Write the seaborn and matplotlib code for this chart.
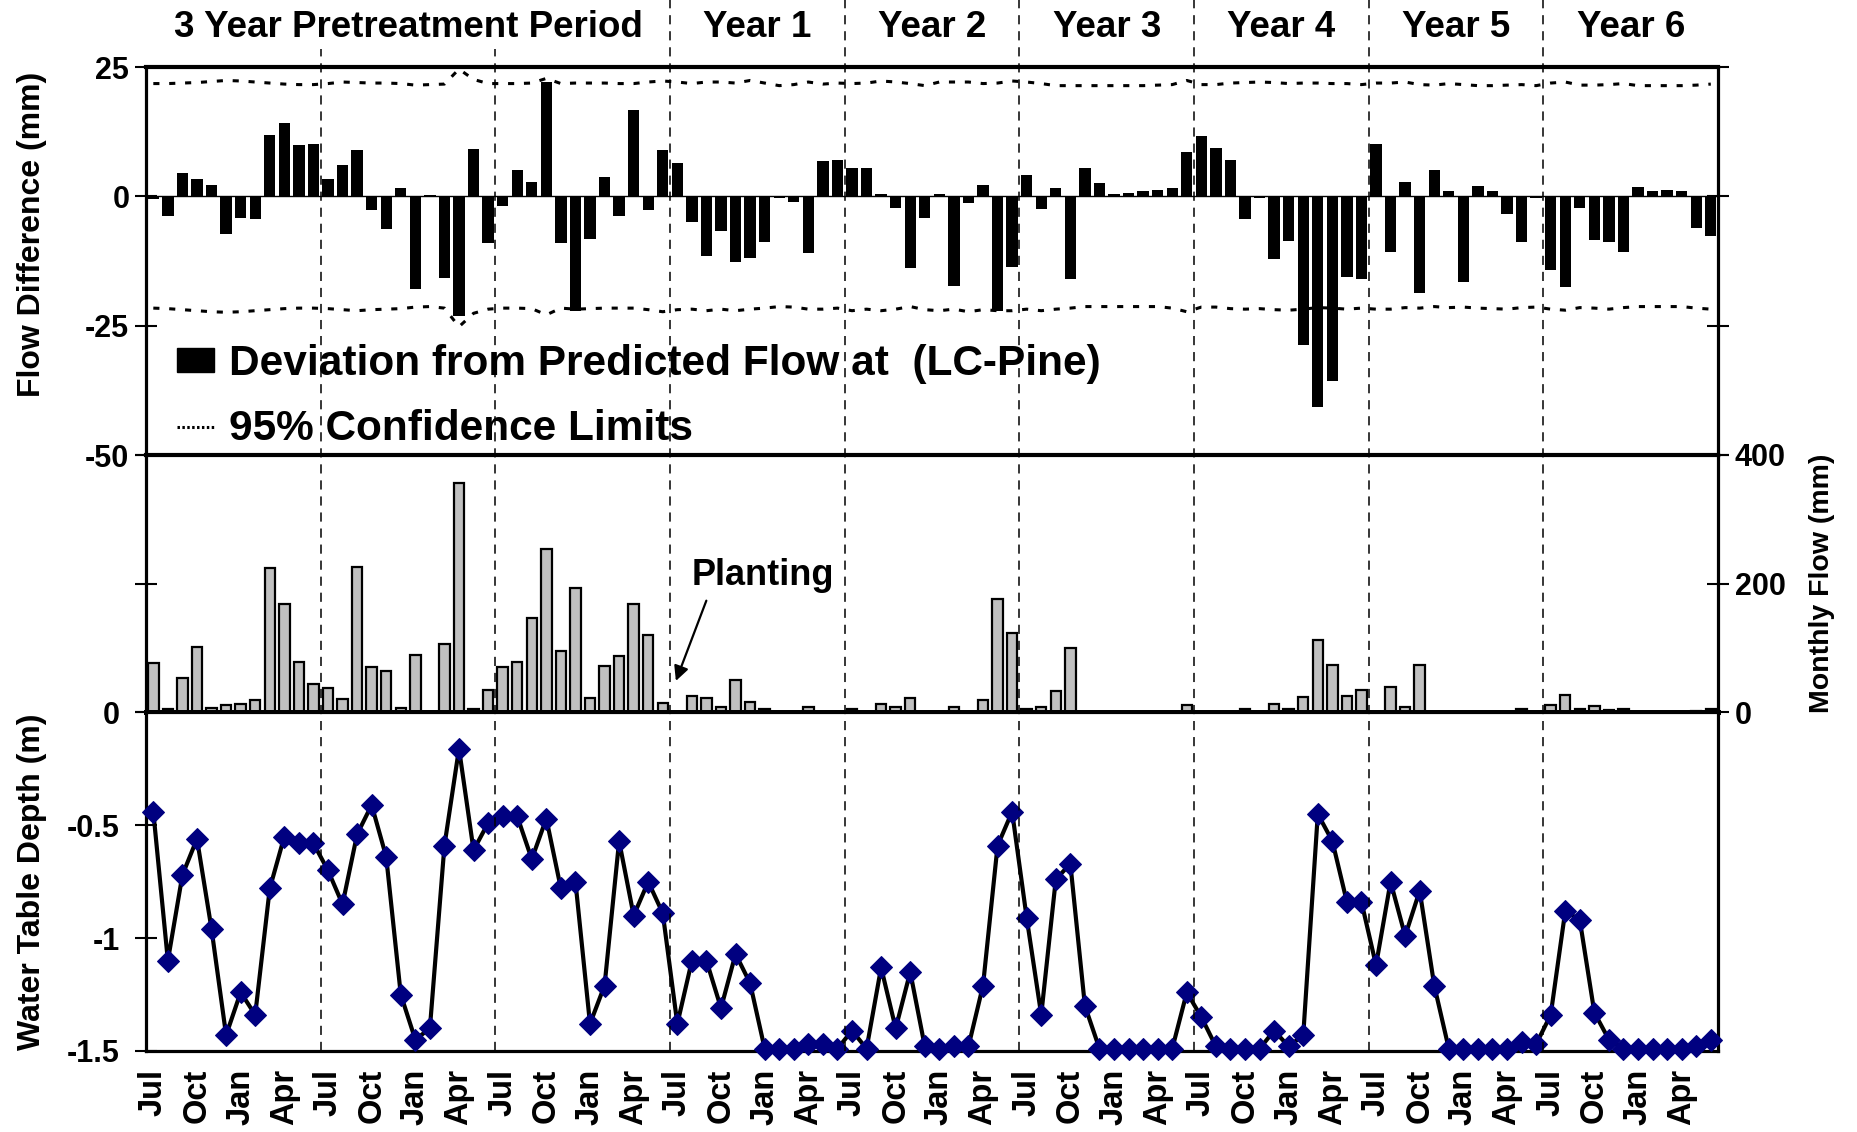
import numpy as np
import matplotlib
matplotlib.use("Agg")
import matplotlib.pyplot as plt
import seaborn as sns
from matplotlib.lines import Line2D
from matplotlib.patches import Patch
from matplotlib.transforms import blended_transform_factory
from matplotlib import font_manager as fm

# ---------------- data ----------------
month_labels = ["Jul", "Oct", "Jan", "Apr"] * 9
period_labels = ["3 Year Pretreatment Period", "Year 1", "Year 2", "Year 3",
                 "Year 4", "Year 5", "Year 6"]
period_centers = [17.5, 41.5, 53.5, 65.5, 77.5, 89.5, 101.5]

flow_diff = [
    -0.5, -3.7, 4.5, 3.4, 2.2, -7.2, -4.2, -4.3, 11.9, 14.1, 9.9, 10.1,
    3.4, 6.0, 9.0, -2.6, -6.4, 1.7, -17.9, 0.3, -15.7, -23.2, 9.2, -9.1,
    -1.9, 5.1, 2.8, 22.1, -9.0, -22.1, -8.3, 3.8, -3.7, 16.7, -2.6, 9.0,
    6.5, -5.0, -11.6, -6.6, -12.7, -12.0, -8.9, -0.4, -1.0, -11.0, 6.8, 7.1,
    5.5, 5.4, 0.5, -2.3, -13.9, -4.2, 0.5, -17.4, -1.2, 2.2, -22.2, -13.6,
    4.1, -2.5, 1.7, -15.9, 5.4, 2.5, 0.5, 0.6, 1.0, 1.3, 1.7, 8.5,
    11.6, 9.4, 7.0, -4.3, -0.4, -12.1, -8.7, -28.7, -40.8, -35.6, -15.6, -16.0,
    10.2, -10.7, 2.7, -18.6, 5.1, 1.1, -16.6, 2.0, 1.0, -3.5, -8.8, -0.4,
    -14.3, -17.5, -2.2, -8.5, -8.8, -10.8, 1.9, 1.0, 1.2, 1.0, -6.2, -7.7,
]

cl_upper = [
    21.8, 21.8, 21.9, 22.0, 22.2, 22.4, 22.3, 22.1, 21.9, 21.7, 21.6, 21.6,
    21.8, 22.1, 22.0, 21.9, 21.9, 21.8, 21.5, 21.6, 21.7, 24.6, 22.6, 21.8,
    21.8, 21.8, 21.9, 22.8, 21.8, 21.9, 21.9, 21.9, 21.8, 21.8, 22.1, 22.3,
    22.1, 21.8, 22.1, 22.1, 21.9, 22.4, 21.9, 21.4, 21.6, 22.1, 21.7, 21.9,
    21.8, 21.9, 22.3, 22.1, 21.8, 21.4, 22.1, 22.1, 22.1, 21.8, 21.9, 22.3,
    22.1, 21.8, 21.4, 21.4, 21.4, 21.4, 21.4, 21.4, 21.4, 21.5, 21.6, 22.4,
    21.6, 21.6, 21.9, 22.0, 22.1, 22.0, 21.8, 21.9, 21.9, 21.8, 21.8, 21.6,
    21.9, 21.9, 22.1, 21.6, 21.5, 21.8, 21.6, 21.4, 21.4, 21.5, 21.6, 21.4,
    21.9, 22.1, 21.5, 21.5, 21.6, 21.8, 21.4, 21.4, 21.4, 21.4, 21.5, 21.7,
]

cl_lower = [
    -21.6, -21.7, -21.9, -22.1, -22.3, -22.4, -22.3, -22.1, -21.9, -21.7, -21.6, -21.6,
    -21.7, -21.9, -22.1, -21.9, -21.8, -21.7, -21.4, -21.3, -21.6, -25.2, -22.6, -21.8,
    -21.6, -21.6, -21.7, -22.9, -21.6, -21.8, -21.7, -21.6, -21.6, -21.6, -21.9, -22.3,
    -21.9, -21.8, -22.1, -21.8, -22.1, -21.8, -21.6, -21.3, -21.4, -21.8, -21.8, -21.6,
    -22.1, -21.8, -22.1, -21.8, -21.3, -21.9, -22.1, -21.8, -22.3, -21.9, -22.1, -22.1,
    -21.8, -22.1, -21.8, -21.6, -21.3, -21.3, -21.3, -21.3, -21.3, -21.3, -21.6, -22.3,
    -21.4, -21.4, -21.7, -21.8, -21.7, -21.9, -22.0, -21.8, -21.5, -21.6, -21.8, -21.6,
    -21.8, -21.8, -21.5, -21.6, -21.3, -21.5, -21.4, -21.6, -21.7, -21.8, -21.5, -21.4,
    -21.8, -22.0, -21.5, -21.6, -21.8, -21.5, -21.3, -21.3, -21.3, -21.3, -21.6, -21.8,
]

monthly_flow = [
    77, 5, 54, 102, 7, 12, 13, 20, 224, 168, 78, 45,
    38, 21, 226, 71, 64, 7, 90, 0, 106, 357, 6, 35,
    70, 79, 146, 254, 95, 194, 22, 72, 87, 168, 120, 14,
    1, 25, 23, 9, 50, 17, 5, 0, 0, 9, 1, 0,
    6, 0, 13, 9, 22, 1, 0, 8, 0, 19, 176, 124,
    6, 8, 33, 100, 0, 0, 0, 0, 0, 0, 0, 11,
    0, 0, 0, 5, 1, 13, 5, 24, 112, 74, 26, 35,
    0, 40, 8, 74, 0, 0, 0, 0, 0, 0, 5, 1,
    12, 27, 5, 10, 4, 5, 0, 0, 0, 0, 2, 5,
]

water_table = [
    -0.44, -1.10, -0.72, -0.56, -0.96, -1.43, -1.24, -1.34, -0.78, -0.55, -0.58, -0.58,
    -0.70, -0.85, -0.54, -0.41, -0.64, -1.25, -1.45, -1.40, -0.59, -0.16, -0.61, -0.49,
    -0.46, -0.46, -0.65, -0.47, -0.78, -0.75, -1.38, -1.21, -0.57, -0.90, -0.75, -0.89,
    -1.38, -1.10, -1.10, -1.31, -1.07, -1.20, -1.49, -1.49, -1.49, -1.47, -1.47, -1.49,
    -1.41, -1.49, -1.13, -1.40, -1.15, -1.48, -1.49, -1.48, -1.48, -1.21, -0.59, -0.44,
    -0.91, -1.34, -0.74, -0.67, -1.30, -1.49, -1.49, -1.49, -1.49, -1.49, -1.49, -1.24,
    -1.35, -1.48, -1.49, -1.49, -1.49, -1.41, -1.48, -1.43, -0.45, -0.57, -0.84, -0.84,
    -1.12, -0.75, -0.99, -0.79, -1.21, -1.49, -1.49, -1.49, -1.49, -1.49, -1.46, -1.47,
    -1.34, -0.88, -0.92, -1.33, -1.45, -1.49, -1.49, -1.49, -1.49, -1.49, -1.48, -1.45,
]

# ---------------- style ----------------
sns.set_theme(style="white")
plt.rcParams["font.family"] = ["Liberation Sans", "DejaVu Sans"]
plt.rcParams["font.weight"] = "bold"
plt.rcParams["axes.labelweight"] = "bold"
for key in ("text.color", "axes.labelcolor", "xtick.color", "ytick.color",
            "axes.edgecolor"):
    plt.rcParams[key] = "black"

try:
    fm.findfont(fm.FontProperties(family="Liberation Sans Narrow", weight="bold"),
                fallback_to_default=False)
    header_family, header_size = ["Liberation Sans Narrow", "Liberation Sans"], 31
except Exception:
    header_family, header_size = ["Liberation Sans", "DejaVu Sans"], 26.5

n = len(flow_diff)
months = np.arange(n)

fig = plt.figure(figsize=(18.58, 11.32), dpi=100)
L, W = 0.0786, 0.8461
ax1 = fig.add_axes([L, 0.598, W, 0.3428])
ax2 = fig.add_axes([L, 0.3706, W, 0.2275], sharex=ax1)
ax3 = fig.add_axes([L, 0.0716, W, 0.299], sharex=ax1)

# ---- top panel: deviation bars + confidence limits
ax1.axhline(0, color="black", lw=1.0, zorder=1)
sns.barplot(x=months, y=flow_diff, native_scale=True, color="black",
            saturation=1, width=0.78, errorbar=None, linewidth=0, ax=ax1, zorder=2)
for lim in (cl_upper, cl_lower):
    sns.lineplot(x=months, y=lim, color="black", lw=2.2,
                 linestyle=(0, (2, 3.2)), ax=ax1, zorder=3)
ax1.set_ylim(-50, 25)
ax1.set_yticks([25, 0, -25, -50])
ax1.set_yticklabels(["25", "0", "-25", "-50"])

handles = [Patch(facecolor="black", edgecolor="black"),
           Line2D([], [], color="black", lw=2.2, linestyle=(0, (0.8, 0.8)))]
ax1.legend(handles, ["Deviation from Predicted Flow at  (LC-Pine)",
                     "95% Confidence Limits"],
           loc="upper left", bbox_to_anchor=(0.020, 0.286), frameon=False,
           handlelength=0.86, handleheight=0.46,
           handletextpad=0.36, labelspacing=0.6, borderpad=0, borderaxespad=0,
           prop={"size": 30.5, "weight": "bold"}, labelcolor="black")

# ---- middle panel: monthly flow
sns.barplot(x=months, y=monthly_flow, native_scale=True, color="#c0c0c0",
            saturation=1, width=0.72, errorbar=None, edgecolor="black",
            linewidth=1.6, ax=ax2)
ax2.set_ylim(0, 400)
ax2.set_yticks([0, 200, 400])
ax2.set_yticklabels(["0", "200", "400"])
ax2.yaxis.set_label_position("right")
ax2.set_ylabel("Monthly Flow (mm)", fontsize=20.5, rotation=90, color="black")
ax2.yaxis.set_label_coords(1.058, 0.5)
ax2.annotate("Planting", xy=(35.9, 49), xytext=(41.9, 212), fontsize=26,
             ha="center", va="center", color="black",
             arrowprops=dict(arrowstyle="-|>", color="black", lw=1.6,
                             mutation_scale=22, relpos=(0.12, 0.0),
                             shrinkA=3, shrinkB=0))

# ---- bottom panel: water table depth
sns.lineplot(x=months, y=water_table, color="black", lw=3.0, marker="D",
             markersize=11, markerfacecolor="#000080",
             markeredgecolor="#000080", clip_on=False, ax=ax3, zorder=4)
ax3.set_ylim(-1.5, 0)
ax3.set_yticks([0, -0.5, -1, -1.5])
ax3.set_yticklabels(["0", "-0.5", "-1", "-1.5"])

ax1.set_xlim(-0.5, n - 0.5)
ax3.set_xticks(months[::3])
ax3.set_xticklabels(month_labels, rotation=90)

# ---- axes cosmetics
for ax in (ax1, ax2, ax3):
    ax.set_xlabel("")
    for sp in ax.spines.values():
        sp.set_visible(True)
        sp.set_color("black")
        sp.set_linewidth(2.3)
    ax.tick_params(axis="x", length=0)
    ax.tick_params(axis="y", direction="inout", length=16, width=1.5,
                   colors="black", labelsize=22, pad=4)
ax2.spines["bottom"].set_linewidth(3.6)
ax2.spines["top"].set_linewidth(3.0)
ax1.spines["top"].set_linewidth(3.0)

ax1.tick_params(axis="x", labelbottom=False)
ax2.tick_params(axis="x", labelbottom=False)
ax1.tick_params(axis="y", left=True, right=True, labelleft=True, labelright=False)
ax2.tick_params(axis="y", left=True, right=True, labelleft=False, labelright=True)
ax3.tick_params(axis="y", left=True, right=False, labelleft=True, labelright=False,
                pad=11)
ax3.tick_params(axis="x", labelsize=23.5, pad=13, colors="black")

ax1.set_ylabel("Flow Difference (mm)", fontsize=23, color="black")
ax1.yaxis.set_label_coords(-0.063, 0.57)
ax3.set_ylabel("Water Table Depth (m)", fontsize=23, color="black")
ax3.yaxis.set_label_coords(-0.063, 0.5)

# ---- year separators and period headers
trans = blended_transform_factory(ax1.transData, fig.transFigure)
for k in range(1, 9):
    xb = 12 * k - 0.5
    ytop = 1.0 if k >= 3 else 0.957
    fig.add_artist(Line2D([xb, xb], [0.0716, ytop], transform=trans,
                          color="black", lw=1.1, linestyle=(0, (6, 4.5)),
                          zorder=5))
for lab, xc in zip(period_labels, period_centers):
    fig.text(xc, 0.976, lab, transform=trans, ha="center", va="center",
             fontsize=header_size, fontweight="bold", family=header_family,
             color="black")

fig.savefig("out.png", dpi=100)
